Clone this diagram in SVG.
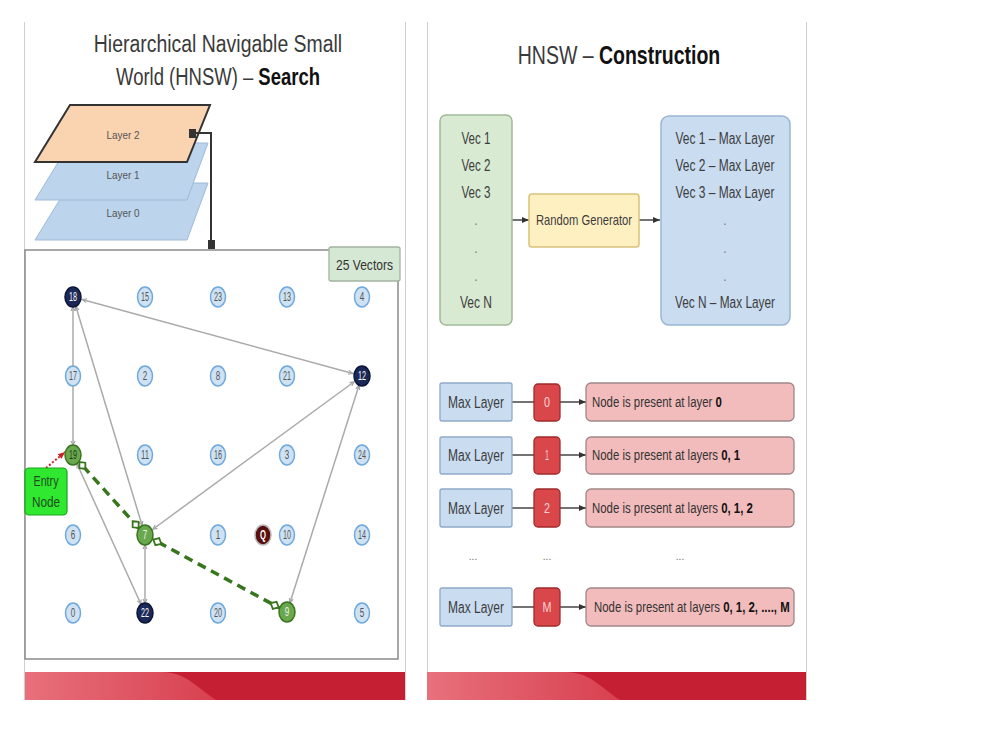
<svg xmlns="http://www.w3.org/2000/svg" width="1000" height="750" viewBox="0 0 1000 750">
<style>
.t{font-family:"Liberation Sans",Arial,sans-serif;}
.ttl{font-family:"Liberation Sans",Arial,sans-serif;font-size:24px;fill:#3a3a3a;}
.tb{font-weight:bold;fill:#111;}
.nc{fill:#cfe2f3;stroke:#6fa8dc;stroke-width:1.5;}
.nd{fill:#1c2857;stroke:#0b1636;stroke-width:1.5;}
.ng{fill:#6aa84f;stroke:#38761d;stroke-width:1.5;}
.nq{fill:#5b1010;stroke:#b9b9b9;stroke-width:1.5;}
.nl{font-family:"Liberation Sans",Arial,sans-serif;font-size:12px;fill:#555;text-anchor:middle;}
.nw{fill:#fff;}
.edge{stroke:#aaaaaa;stroke-width:1.5;fill:none;marker-start:url(#ga);marker-end:url(#ga);}
.path{stroke:#38761d;stroke-width:3.5;stroke-dasharray:9 6;fill:none;marker-start:url(#dm);marker-end:url(#dm);}
.vec{font-family:"Liberation Sans",Arial,sans-serif;font-size:16px;fill:#3d3d3d;text-anchor:middle;}
.dot{font-family:"Liberation Sans",Arial,sans-serif;font-size:14px;fill:#888;text-anchor:middle;}
.ml{fill:#c9dcf0;stroke:#8ea9c8;stroke-width:1.3;}
.rb{fill:#d9474a;stroke:#a02a2a;stroke-width:1.3;}
.pk{fill:#f2bcbc;stroke:#a08686;stroke-width:1.3;}
.mlt{font-family:"Liberation Sans",Arial,sans-serif;font-size:16px;fill:#3d3d3d;text-anchor:middle;}
.rbt{font-family:"Liberation Sans",Arial,sans-serif;font-size:14px;fill:#f7d2d2;text-anchor:middle;}
.pkt{font-family:"Liberation Sans",Arial,sans-serif;font-size:15px;fill:#333;}
.b{font-weight:bold;fill:#111;}
.cn{stroke:#444;stroke-width:1.5;fill:none;}
.ca{stroke:#444;stroke-width:1.5;fill:none;marker-end:url(#ba);}
.lay{font-family:"Liberation Sans",Arial,sans-serif;font-size:11px;fill:#555;text-anchor:middle;}
</style>
<defs>
<marker id="ga" markerUnits="userSpaceOnUse" markerWidth="6" markerHeight="6" refX="15" refY="3" orient="auto-start-reverse">
<path d="M1,1 L5,3 L1,5" fill="none" stroke="#a5a5a5" stroke-width="1.2"/>
</marker>
<marker id="dm" markerUnits="userSpaceOnUse" markerWidth="12" markerHeight="12" refX="20" refY="6" orient="auto-start-reverse">
<path d="M1.5,6 L6,2 L10.5,6 L6,10 Z" fill="#fff" stroke="#38761d" stroke-width="1.8"/>
</marker>
<marker id="ba" markerUnits="userSpaceOnUse" markerWidth="8" markerHeight="8" refX="7" refY="4" orient="auto">
<path d="M0,1 L7,4 L0,7 Z" fill="#333"/>
</marker>
<marker id="ra" markerUnits="userSpaceOnUse" markerWidth="8" markerHeight="8" refX="7" refY="4" orient="auto">
<path d="M0,1 L7,4 L0,7 Z" fill="#cc1f1f"/>
</marker>
<linearGradient id="bandL" x1="0" y1="0" x2="1" y2="0">
<stop offset="0" stop-color="#e8707c"/>
<stop offset="1" stop-color="#d8404f"/>
</linearGradient>
</defs>
<rect width="1000" height="750" fill="#fff"/>

<g id="panels">
<line x1="24.5" y1="22" x2="24.5" y2="700" stroke="#cfcfcf"/>
<line x1="405.5" y1="22" x2="405.5" y2="700" stroke="#cfcfcf"/>
<line x1="427.5" y1="22" x2="427.5" y2="700" stroke="#cfcfcf"/>
<line x1="806.5" y1="22" x2="806.5" y2="700" stroke="#cfcfcf"/>
<rect x="25" y="672" width="380" height="28" fill="#c41f33"/>
<path d="M25,672 H162 C185,672 195,686 216,700 H25 Z" fill="url(#bandL)"/>
<rect x="427" y="672" width="379" height="28" fill="#c41f33"/>
<path d="M427,672 H566 C589,672 599,686 620,700 H427 Z" fill="url(#bandL)"/>
</g>

<g id="title-left">
<text class="ttl" text-anchor="middle" transform="translate(218,52) scale(0.81,1)">Hierarchical Navigable Small</text>
<text class="ttl" text-anchor="middle" transform="translate(218,85) scale(0.77,1)">World (HNSW) – <tspan class="tb">Search</tspan></text>
</g>

<g id="layer0">
<polygon points="70,183 208,183 187,240 35,240" fill="#bcd4ec" stroke="#9fbad6" stroke-width="1"/>
<text class="lay" x="123" y="217" textLength="33" lengthAdjust="spacingAndGlyphs">Layer 0</text>
</g>
<g id="layer1">
<polygon points="70,143 208,143 187,200 35,200" fill="#bcd4ec" stroke="#9fbad6" stroke-width="1"/>
<text class="lay" x="123" y="179" textLength="33" lengthAdjust="spacingAndGlyphs">Layer 1</text>
</g>
<g id="layer2">
<polygon points="70,105 210,105 187,162 35,162" fill="#fad3b0" stroke="#333" stroke-width="2"/>
<text class="lay" x="123" y="139" textLength="33" lengthAdjust="spacingAndGlyphs">Layer 2</text>
</g>

<g id="grid">
<rect x="25" y="250" width="373" height="409" fill="#fff" stroke="#8a8a8a" stroke-width="1.5"/>
</g>
<g id="vectors-label">
<rect x="329" y="247" width="71" height="34" fill="#d5e8d4" stroke="#a3b3a0" stroke-width="1.3" rx="2"/>
<text class="t" x="364.5" y="270" font-size="15" fill="#333" text-anchor="middle" textLength="57" lengthAdjust="spacingAndGlyphs">25 Vectors</text>
</g>

<g id="connectors">
<path d="M193,133 H211 V245" stroke="#333" stroke-width="2" fill="none"/>
<rect x="189" y="129" width="7" height="9" fill="#333"/>
<rect x="208" y="240" width="7" height="9" fill="#333"/>
<line class="edge" x1="73" y1="297" x2="362" y2="376"/>
<line class="edge" x1="73" y1="297" x2="73" y2="455"/>
<line class="edge" x1="73" y1="297" x2="145" y2="535"/>
<line class="edge" x1="362" y1="376" x2="145" y2="535"/>
<line class="edge" x1="362" y1="376" x2="287" y2="612"/>
<line class="edge" x1="73" y1="455" x2="145" y2="613"/>
<line class="edge" x1="145" y1="535" x2="145" y2="613"/>
<line class="path" x1="73" y1="455" x2="145" y2="535"/>
<line class="path" x1="145" y1="535" x2="287" y2="612"/>
<line x1="46" y1="468" x2="65" y2="452" stroke="#cc1f1f" stroke-width="2" stroke-dasharray="2 2" marker-end="url(#ra)"/>
<line class="ca" x1="512" y1="220" x2="529" y2="220"/>
<line class="ca" x1="639" y1="220" x2="660" y2="220"/>
<line class="cn" x1="512" y1="402" x2="534" y2="402"/>
<line class="ca" x1="560" y1="402" x2="586" y2="402"/>
<line class="cn" x1="512" y1="455" x2="534" y2="455"/>
<line class="ca" x1="560" y1="455" x2="586" y2="455"/>
<line class="cn" x1="512" y1="508" x2="534" y2="508"/>
<line class="ca" x1="560" y1="508" x2="586" y2="508"/>
<line class="cn" x1="512" y1="607" x2="534" y2="607"/>
<line class="ca" x1="560" y1="607" x2="586" y2="607"/>
</g>

<g id="n18"><ellipse class="nd" cx="73" cy="297" rx="8" ry="10"/><text class="nl nw" x="73" y="301" textLength="8" lengthAdjust="spacingAndGlyphs">18</text></g>
<g id="n15"><ellipse class="nc" cx="145" cy="297" rx="7.5" ry="10"/><text class="nl" x="145" y="301" textLength="8" lengthAdjust="spacingAndGlyphs">15</text></g>
<g id="n23"><ellipse class="nc" cx="218" cy="297" rx="7.5" ry="10"/><text class="nl" x="218" y="301" textLength="8" lengthAdjust="spacingAndGlyphs">23</text></g>
<g id="n13"><ellipse class="nc" cx="287" cy="297" rx="7.5" ry="10"/><text class="nl" x="287" y="301" textLength="8" lengthAdjust="spacingAndGlyphs">13</text></g>
<g id="n4"><ellipse class="nc" cx="362" cy="297" rx="7.5" ry="10"/><text class="nl" x="362" y="301" textLength="4.5" lengthAdjust="spacingAndGlyphs">4</text></g>

<g id="n17"><ellipse class="nc" cx="73" cy="376" rx="7.5" ry="10"/><text class="nl" x="73" y="380" textLength="8" lengthAdjust="spacingAndGlyphs">17</text></g>
<g id="n2"><ellipse class="nc" cx="145" cy="376" rx="7.5" ry="10"/><text class="nl" x="145" y="380" textLength="4.5" lengthAdjust="spacingAndGlyphs">2</text></g>
<g id="n8"><ellipse class="nc" cx="218" cy="376" rx="7.5" ry="10"/><text class="nl" x="218" y="380" textLength="4.5" lengthAdjust="spacingAndGlyphs">8</text></g>
<g id="n21"><ellipse class="nc" cx="287" cy="376" rx="7.5" ry="10"/><text class="nl" x="287" y="380" textLength="8" lengthAdjust="spacingAndGlyphs">21</text></g>
<g id="n12"><ellipse class="nd" cx="362" cy="376" rx="8" ry="10"/><text class="nl nw" x="362" y="380" textLength="8" lengthAdjust="spacingAndGlyphs">12</text></g>

<g id="n19"><ellipse class="ng" cx="73" cy="455" rx="8" ry="10"/><text class="nl" x="73" y="459" style="fill:#1f3d12" textLength="8" lengthAdjust="spacingAndGlyphs">19</text></g>
<g id="n11"><ellipse class="nc" cx="145" cy="455" rx="7.5" ry="10"/><text class="nl" x="145" y="459" textLength="8" lengthAdjust="spacingAndGlyphs">11</text></g>
<g id="n16"><ellipse class="nc" cx="218" cy="455" rx="7.5" ry="10"/><text class="nl" x="218" y="459" textLength="8" lengthAdjust="spacingAndGlyphs">16</text></g>
<g id="n3"><ellipse class="nc" cx="287" cy="455" rx="7.5" ry="10"/><text class="nl" x="287" y="459" textLength="4.5" lengthAdjust="spacingAndGlyphs">3</text></g>
<g id="n24"><ellipse class="nc" cx="362" cy="455" rx="7.5" ry="10"/><text class="nl" x="362" y="459" textLength="8" lengthAdjust="spacingAndGlyphs">24</text></g>

<g id="n6"><ellipse class="nc" cx="73" cy="535" rx="7.5" ry="10"/><text class="nl" x="73" y="539" textLength="4.5" lengthAdjust="spacingAndGlyphs">6</text></g>
<g id="n7"><ellipse class="ng" cx="145" cy="535" rx="8" ry="10"/><text class="nl" x="145" y="539" style="fill:#e6f2e0" textLength="4.5" lengthAdjust="spacingAndGlyphs">7</text></g>
<g id="n1"><ellipse class="nc" cx="218" cy="535" rx="7.5" ry="10"/><text class="nl" x="218" y="539" textLength="4.5" lengthAdjust="spacingAndGlyphs">1</text></g>
<g id="nQ"><ellipse class="nq" cx="263" cy="535" rx="8" ry="10"/><text class="nl nw" x="263" y="539" font-weight="bold" textLength="6" lengthAdjust="spacingAndGlyphs">Q</text></g>
<g id="n10"><ellipse class="nc" cx="287" cy="535" rx="7.5" ry="10"/><text class="nl" x="287" y="539" textLength="8" lengthAdjust="spacingAndGlyphs">10</text></g>
<g id="n14"><ellipse class="nc" cx="362" cy="535" rx="7.5" ry="10"/><text class="nl" x="362" y="539" textLength="8" lengthAdjust="spacingAndGlyphs">14</text></g>

<g id="n0"><ellipse class="nc" cx="73" cy="613" rx="7.5" ry="10"/><text class="nl" x="73" y="617" textLength="4.5" lengthAdjust="spacingAndGlyphs">0</text></g>
<g id="n22"><ellipse class="nd" cx="145" cy="613" rx="8" ry="10"/><text class="nl nw" x="145" y="617" textLength="8" lengthAdjust="spacingAndGlyphs">22</text></g>
<g id="n20"><ellipse class="nc" cx="218" cy="613" rx="7.5" ry="10"/><text class="nl" x="218" y="617" textLength="8" lengthAdjust="spacingAndGlyphs">20</text></g>
<g id="n9"><ellipse class="ng" cx="287" cy="612" rx="8" ry="10"/><text class="nl" x="287" y="616" style="fill:#e6f2e0" textLength="4.5" lengthAdjust="spacingAndGlyphs">9</text></g>
<g id="n5"><ellipse class="nc" cx="362" cy="613" rx="7.5" ry="10"/><text class="nl" x="362" y="617" textLength="4.5" lengthAdjust="spacingAndGlyphs">5</text></g>

<g id="entry-node">
<rect x="25" y="468" width="42" height="47" rx="4" fill="#2fe82f" stroke="#1aa51a" stroke-width="1.2"/>
<text class="t" x="46" y="486" font-size="14" fill="#1f4d1f" text-anchor="middle" textLength="25" lengthAdjust="spacingAndGlyphs">Entry</text>
<text class="t" x="46" y="507" font-size="14" fill="#1f4d1f" text-anchor="middle" textLength="28" lengthAdjust="spacingAndGlyphs">Node</text>
</g>

<g id="title-right">
<text class="ttl" text-anchor="middle" style="font-size:25px" transform="translate(619,64) scale(0.78,1)">HNSW – <tspan class="tb">Construction</tspan></text>
</g>

<g id="vec-list">
<rect x="440" y="115" width="72" height="210" rx="6" fill="#d9ead3" stroke="#a3b89b" stroke-width="1.5"/>
<text class="vec" x="476" y="144" textLength="29" lengthAdjust="spacingAndGlyphs">Vec 1</text>
<text class="vec" x="476" y="171" textLength="29" lengthAdjust="spacingAndGlyphs">Vec 2</text>
<text class="vec" x="476" y="198" textLength="29" lengthAdjust="spacingAndGlyphs">Vec 3</text>
<text class="dot" x="476" y="225">.</text>
<text class="dot" x="476" y="253">.</text>
<text class="dot" x="476" y="281">.</text>
<text class="vec" x="476" y="308" textLength="32" lengthAdjust="spacingAndGlyphs">Vec N</text>
</g>

<g id="random-generator">
<rect x="529" y="194" width="110" height="53" rx="3" fill="#fff0c2" stroke="#d9c27a" stroke-width="1.5"/>
<text class="t" x="584" y="225" font-size="15" fill="#3d3d3d" text-anchor="middle" textLength="96" lengthAdjust="spacingAndGlyphs">Random Generator</text>
</g>

<g id="max-layer-list">
<rect x="661" y="116" width="129" height="209" rx="8" fill="#c9dcf0" stroke="#9ab5d3" stroke-width="1.5"/>
<text class="vec" x="725" y="144" textLength="99" lengthAdjust="spacingAndGlyphs">Vec 1 – Max Layer</text>
<text class="vec" x="725" y="171" textLength="99" lengthAdjust="spacingAndGlyphs">Vec 2 – Max Layer</text>
<text class="vec" x="725" y="198" textLength="99" lengthAdjust="spacingAndGlyphs">Vec 3 – Max Layer</text>
<text class="dot" x="725" y="225">.</text>
<text class="dot" x="725" y="253">.</text>
<text class="dot" x="725" y="281">.</text>
<text class="vec" x="725" y="308" textLength="100" lengthAdjust="spacingAndGlyphs">Vec N – Max Layer</text>
</g>

<g id="row0">
<rect class="ml" x="440" y="383" width="72" height="38" rx="2"/>
<text class="mlt" x="476" y="408" textLength="56" lengthAdjust="spacingAndGlyphs">Max Layer</text>
<rect class="rb" x="534" y="384" width="26" height="37" rx="4"/>
<text class="rbt" x="547" y="407" textLength="6" lengthAdjust="spacingAndGlyphs">0</text>
<rect class="pk" x="586" y="383" width="208" height="38" rx="5"/>
<text class="pkt" transform="translate(592,407) scale(0.76,1)">Node is present at layer <tspan class="b">0</tspan></text>
</g>
<g id="row1">
<rect class="ml" x="440" y="437" width="72" height="37" rx="2"/>
<text class="mlt" x="476" y="461" textLength="56" lengthAdjust="spacingAndGlyphs">Max Layer</text>
<rect class="rb" x="534" y="437" width="26" height="37" rx="4"/>
<text class="rbt" x="547" y="460" textLength="4" lengthAdjust="spacingAndGlyphs">1</text>
<rect class="pk" x="586" y="437" width="208" height="37" rx="5"/>
<text class="pkt" transform="translate(592,460) scale(0.76,1)">Node is present at layers <tspan class="b">0, 1</tspan></text>
</g>
<g id="row2">
<rect class="ml" x="440" y="489" width="72" height="38" rx="2"/>
<text class="mlt" x="476" y="514" textLength="56" lengthAdjust="spacingAndGlyphs">Max Layer</text>
<rect class="rb" x="534" y="489" width="26" height="38" rx="4"/>
<text class="rbt" x="547" y="513" textLength="6" lengthAdjust="spacingAndGlyphs">2</text>
<rect class="pk" x="586" y="489" width="208" height="38" rx="5"/>
<text class="pkt" transform="translate(592,513) scale(0.76,1)">Node is present at layers <tspan class="b">0, 1, 2</tspan></text>
</g>
<g id="ellipsis-row">
<text class="t" x="473" y="560" font-size="10" fill="#666" text-anchor="middle">...</text>
<text class="t" x="547" y="560" font-size="10" fill="#666" text-anchor="middle">...</text>
<text class="t" x="680" y="560" font-size="10" fill="#666" text-anchor="middle">...</text>
</g>
<g id="rowM">
<rect class="ml" x="440" y="588" width="72" height="38" rx="2"/>
<text class="mlt" x="476" y="613" textLength="56" lengthAdjust="spacingAndGlyphs">Max Layer</text>
<rect class="rb" x="534" y="588" width="26" height="38" rx="4"/>
<text class="rbt" x="547" y="612" textLength="9" lengthAdjust="spacingAndGlyphs">M</text>
<rect class="pk" x="586" y="588" width="208" height="38" rx="5"/>
<text class="pkt" transform="translate(594,612) scale(0.76,1)">Node is present at layers <tspan class="b">0, 1, 2, ...., M</tspan></text>
</g>
</svg>
